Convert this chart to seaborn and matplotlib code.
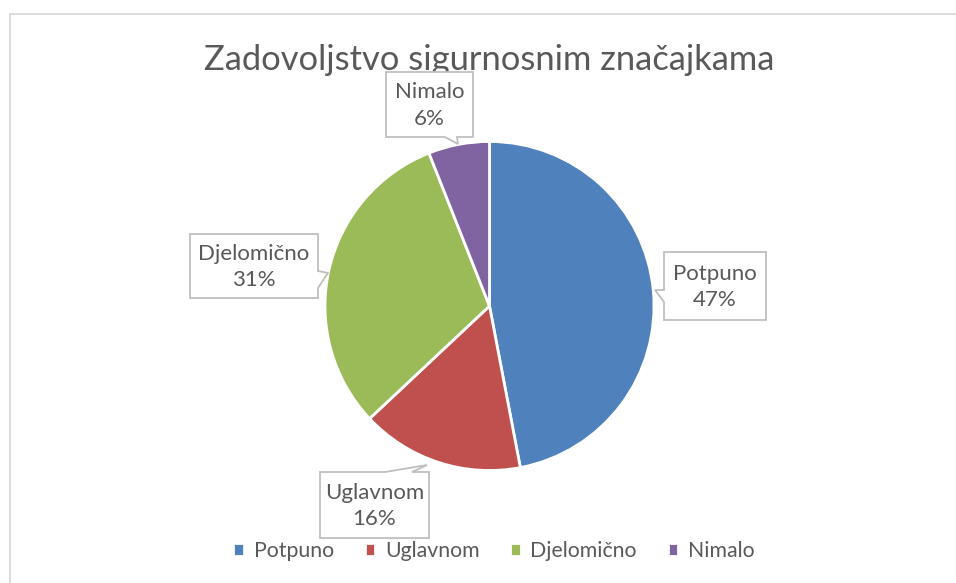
import numpy as np
import matplotlib
matplotlib.use('Agg')
import matplotlib.pyplot as plt
from matplotlib.patches import Polygon
import seaborn as sns

#%% data
categories = ['Potpuno', 'Uglavnom', 'Djelomično', 'Nimalo']
shares = [47, 16, 31, 6]
colors = ['#4F81BD', '#C0504D', '#9BBB59', '#8064A2']
title = 'Zadovoljstvo sigurnosnim značajkama'

#%% style
sns.set_style('white')
plt.rcParams['font.family'] = ['Lato', 'DejaVu Sans']
txt_col = '#595959'
W, H = 956, 583

fig = plt.figure(figsize=(W / 100, H / 100), dpi=100)
ax = fig.add_axes([0, 0, 1, 1])

def fy(y):
    # pixel y measured from top -> axes y
    return H - y

# chart area border (only top/left visible in the crop)
ax.plot([10, W], [fy(14), fy(14)], color='#D9D9D9', lw=1.3)
ax.plot([10, 10], [fy(14), 0], color='#D9D9D9', lw=1.3)

#%% pie
wedges, _ = ax.pie(shares, colors=colors, startangle=90, counterclock=False,
                   center=(489.5, fy(306)), radius=164.5, frame=True,
                   wedgeprops=dict(edgecolor='white', linewidth=2))
ax.set_xlim(0, W)
ax.set_ylim(0, H)
ax.set_aspect('equal')
ax.axis('off')

ax.text(489, fy(60), title, ha='center', va='center', fontsize=24.8,
        color=txt_col)

#%% callouts
def callout(x0, y0, x1, y1, side, b0, b1, tip):
    # rectangle with a pointer, coordinates in px from top
    pts = [(x0, y0)]
    if side == 'top':
        pts += [(b0, y0), tip, (b1, y0)]
    pts += [(x1, y0)]
    if side == 'right':
        pts += [(x1, b0), tip, (x1, b1)]
    pts += [(x1, y1)]
    if side == 'bottom':
        pts += [(b1, y1), tip, (b0, y1)]
    pts += [(x0, y1)]
    if side == 'left':
        pts += [(x0, b1), tip, (x0, b0)]
    poly = Polygon([(px, fy(py)) for px, py in pts], closed=True,
                   facecolor='white', edgecolor='#BFBFBF', lw=1.3, zorder=5)
    ax.add_patch(poly)

boxes = {
    'Potpuno': (664, 252, 766, 320, 'left', 290, 302, (655, 290)),
    'Uglavnom': (320, 472, 429, 538, 'top', 385, 412, (427, 465)),
    'Djelomično': (190, 234, 318, 298, 'right', 271, 288, (328, 273)),
    'Nimalo': (386, 72, 473, 137, 'bottom', 445, 457, (458, 144)),
}
for cat, val in zip(categories, shares):
    x0, y0, x1, y1, side, b0, b1, tip = boxes[cat]
    callout(x0, y0, x1, y1, side, b0, b1, tip)
    ax.text((x0 + x1) / 2, fy((y0 + y1) / 2 + 1), f'{cat}\n{val}%', ha='center',
            va='center', fontsize=16, color=txt_col, linespacing=1.38,
            zorder=6)

#%% legend
fig.legend(wedges, categories, loc='center', bbox_to_anchor=(494 / W, 1 - 551 / H),
           ncol=4, frameon=False, fontsize=15.3, labelcolor=txt_col,
           handlelength=0.5, handleheight=0.5, handletextpad=0.45,
           columnspacing=1.45)

fig.savefig('out.png', dpi=100)
